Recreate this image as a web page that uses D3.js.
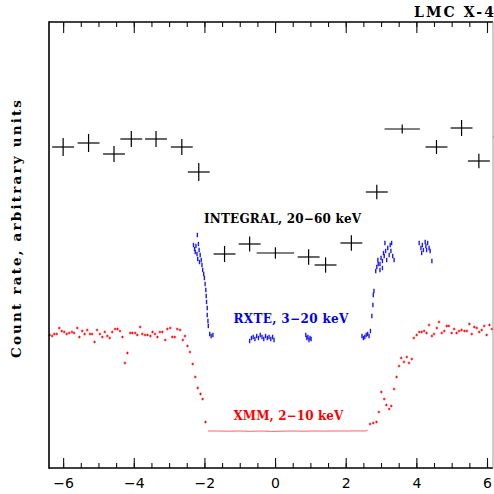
<!DOCTYPE html>
<html>
<head>
<meta charset="utf-8">
<script src="https://cdn.jsdelivr.net/npm/d3@7"></script>
<style>
	body{margin:0; background:#fff;}
	svg{display:block;}
</style>
</head>
<body>
<svg id="chart"></svg>
<script>
// INTEGRAL 20-60 keV, binned (crosses)
const integralPhase = [-6.00, -5.28, -4.56, -4.07, -3.37, -2.64, -2.16, -1.43, -0.72, 0.01, 0.95, 1.43, 2.16, 2.88, 3.60, 4.57, 5.28, 5.77, 6.49];
const integralRate = [3.21, 3.25, 3.14, 3.29, 3.29, 3.21, 2.96, 2.14, 2.24, 2.15, 2.11, 2.03, 2.25, 2.76, 3.39, 3.21, 3.40, 3.07, 3.31];
const integralPhaseErr = [0.31, 0.31, 0.31, 0.31, 0.31, 0.31, 0.31, 0.31, 0.31, 0.53, 0.31, 0.31, 0.31, 0.31, 0.50, 0.31, 0.31, 0.31, 0.31];
const integralRateErr = [0.09, 0.09, 0.08, 0.08, 0.08, 0.08, 0.09, 0.08, 0.075, 0.057, 0.077, 0.077, 0.077, 0.072, 0.045, 0.07, 0.08, 0.073, 0.07];

// RXTE 3-20 keV
const rxtePhase = [
	-2.20, -2.31, -2.28, -2.24, -2.17, -2.15, -2.26, -2.21, -2.12, -2.19, -2.09, -2.14, -2.07, -2.05, -2.02, -2.00,
	-1.98, -1.96, -1.95, -1.94, -1.92, -1.92, -1.90, -1.89, -1.85, -1.81, -1.76,
	-0.72, -0.67, -0.62, -0.57, -0.52, -0.47, -0.42, -0.37, -0.32, -0.27, -0.22, -0.17, -0.12, -0.07, -0.03,
	0.87, 0.90, 0.93, 0.96, 0.99, 1.02,
	2.46, 2.50, 2.54, 2.58, 2.62, 2.66, 2.70,
	2.74, 2.77, 2.78, 2.80,
	2.85, 2.88, 2.92, 2.97, 2.91, 3.00, 3.04, 3.07, 3.09, 3.13, 3.16, 3.19, 3.23, 3.26, 3.28, 3.30, 3.33, 3.37, 3.11, 3.04, 2.97,
	4.08, 4.13, 4.17, 4.20, 4.25, 4.27, 4.32, 4.36, 4.39, 4.15, 4.44, 4.29
];
const rxteRate = [
	2.33, 2.23, 2.19, 2.22, 2.24, 2.18, 2.16, 2.14, 2.13, 2.09, 2.08, 2.06, 2.03, 1.98, 1.94, 1.90,
	1.84, 1.78, 1.72, 1.66, 1.60, 1.53, 1.47, 1.42, 1.34, 1.32, 1.33,
	1.27, 1.30, 1.31, 1.29, 1.32, 1.30, 1.33, 1.31, 1.29, 1.32, 1.30, 1.31, 1.29, 1.31, 1.28,
	1.33, 1.30, 1.31, 1.28, 1.30, 1.29,
	1.32, 1.30, 1.31, 1.33, 1.34, 1.32, 1.37,
	1.52, 1.63, 1.73, 1.77,
	1.97, 2.01, 2.04, 1.98, 2.08, 2.10, 2.07, 2.15, 2.12, 2.17, 2.08, 2.20, 2.13, 2.23, 2.17, 2.25, 2.12, 2.08, 2.25, 2.00, 2.04,
	2.25, 2.20, 2.23, 2.18, 2.26, 2.22, 2.25, 2.20, 2.17, 2.15, 2.07, 2.18
];

// XMM 2-10 keV, out of the flat eclipse bottom
const xmmPhase = [
	-6.38, -6.31, -6.25, -6.18, -6.11, -6.04, -5.97, -5.90, -5.83, -5.75, -5.69, -5.60, -5.54, -5.46, -5.39, -5.32,
	-5.24, -5.18, -5.11, -5.04, -4.96, -4.89, -4.82, -4.75, -4.68, -4.61, -4.53, -4.46, -4.39, -4.32, -4.25, -4.18,
	-4.10, -4.04, -3.96, -3.90, -3.82, -3.76, -3.68, -3.61, -3.53, -3.47, -3.40, -3.33, -3.26, -3.19, -3.11, -3.05,
	-2.97, -2.91, -2.84, -2.77, -2.69, -2.61, -2.55, -2.48, -2.41, -2.33, -2.26, -2.19, -2.11, -2.05, -1.97,
	2.69, 2.78, 2.87, 2.94, 3.01, 3.09, 3.15, 3.23, 3.29, 3.37, 3.44, 3.51, 3.57, 3.65, 3.73, 3.79, 3.87,
	3.93, 4.01, 4.08, 4.15, 4.22, 4.29, 4.36, 4.44, 4.50, 4.58, 4.64, 4.72, 4.79, 4.86, 4.92, 5.00,
	5.07, 5.14, 5.21, 5.28, 5.36, 5.43, 5.50, 5.57, 5.64, 5.71, 5.78, 5.85, 5.92, 5.99, 6.07, 6.14
];
const xmmRate = [
	1.33, 1.32, 1.34, 1.34, 1.40, 1.37, 1.36, 1.34, 1.35, 1.36, 1.35, 1.40, 1.31, 1.37, 1.34, 1.38,
	1.34, 1.34, 1.26, 1.38, 1.34, 1.31, 1.36, 1.32, 1.30, 1.36, 1.39, 1.39, 1.37, 1.31, 1.05, 1.15,
	1.35, 1.35, 1.35, 1.33, 1.41, 1.34, 1.33, 1.33, 1.32, 1.36, 1.34, 1.31, 1.36, 1.36, 1.28, 1.39,
	1.40, 1.31, 1.31, 1.39, 1.38, 1.28, 1.32, 1.22, 1.16, 1.04, 0.91, 0.80, 0.74, 0.69, 0.46,
	0.44, 0.45, 0.46, 0.56, 0.76, 0.69, 0.63, 0.59, 0.62, 0.79, 0.91, 1.02, 1.10, 1.06, 1.11, 1.05, 1.09,
	1.30, 1.33, 1.36, 1.36, 1.37, 1.35, 1.43, 1.32, 1.34, 1.40, 1.46, 1.35, 1.37, 1.42, 1.42, 1.35,
	1.39, 1.35, 1.37, 1.38, 1.37, 1.37, 1.44, 1.34, 1.41, 1.40, 1.36, 1.38, 1.42, 1.33, 1.43, 1.39
];
// eclipse bottom is so dense it reads as a line
const xmmEclipsePhase = [-1.90, -1.60, -1.30, -1.00, -0.70, -0.40, -0.10, 0.20, 0.50, 0.80, 1.10, 1.40, 1.70, 2.00, 2.30, 2.55, 2.62];
const xmmEclipseRate = [0.37, 0.37, 0.368, 0.37, 0.367, 0.37, 0.366, 0.368, 0.37, 0.368, 0.37, 0.369, 0.37, 0.37, 0.371, 0.37, 0.38];

const majorTicks = [-6, -4, -2, 0, 2, 4, 6];
const minorTicks = [-6, -5.5, -5, -4.5, -4, -3.5, -3, -2.5, -2, -1.5, -1, -0.5, 0, 0.5, 1, 1.5, 2, 2.5, 3, 3.5, 4, 4.5, 5, 5.5, 6];

const title = "LMC X-4";
const yTitle = "Count rate, arbitrary units";
const labels = [
	{text: "INTEGRAL, 20\u221260 keV", phase: -2.01, rate: 2.45, color: "black", len: 157},
	{text: "RXTE, 3\u221220 keV", phase: -1.18, rate: 1.45, color: "#0000f0", len: 115},
	{text: "XMM, 2\u221210 keV", phase: -1.18, rate: 0.48, color: "#f00", len: 110}
];

class LightCurvePlot{
	constructor(){
		this.width = 494;
		this.height = 494;
		this.left = 49;
		this.right = 493;
		this.top = 22;
		this.bottom = 468;

		this.x = d3.scaleLinear().domain([-6.4, 6.17]).range([this.left, this.right]);
		this.y = d3.scaleLinear().domain([0, 4.46]).range([this.bottom, this.top]);

		this.svg = d3.select("#chart").attr("width", this.width).attr("height", this.height);
		this.serif = "'DejaVu Serif', 'Liberation Serif', serif";
	}

	drawFrame(){
		let svg = this.svg;
		// minor + major ticks, bottom and top
		let bMinor = d3.axisBottom(this.x).tickValues(minorTicks).tickSize(-5).tickFormat("");
		let bMajor = d3.axisBottom(this.x).tickValues(majorTicks).tickSize(-10).tickPadding(10.5);
		let tMinor = d3.axisTop(this.x).tickValues(minorTicks).tickSize(-5).tickFormat("");
		let tMajor = d3.axisTop(this.x).tickValues(majorTicks).tickSize(-11).tickFormat("");

		[[bMinor, this.bottom], [bMajor, this.bottom], [tMinor, this.top], [tMajor, this.top]].forEach(a => {
			let g = svg.append("g").attr("transform", "translate(0," + a[1] + ")").call(a[0]);
			g.select(".domain").remove();
			g.selectAll(".tick line").attr("stroke", "#111").attr("stroke-width", 1.1);
			g.selectAll(".tick text")
				.attr("fill", "#000")
				.style("font-family", "'DejaVu Sans', sans-serif")
				.style("font-size", "14px");
		});

		svg.append("line").attr("x1", this.left).attr("x2", this.left).attr("y1", this.top - 0.7).attr("y2", this.bottom + 0.7)
			.attr("stroke", "#000").attr("stroke-width", 1.6);
		svg.append("line").attr("x1", this.left).attr("x2", this.right).attr("y1", this.bottom).attr("y2", this.bottom)
			.attr("stroke", "#000").attr("stroke-width", 1.6);
		svg.append("line").attr("x1", this.left).attr("x2", this.right).attr("y1", this.top).attr("y2", this.top)
			.attr("stroke", "#000").attr("stroke-width", 1.4);
		svg.append("line").attr("x1", this.right).attr("x2", this.right).attr("y1", this.top).attr("y2", this.bottom)
			.attr("stroke", "#999").attr("stroke-width", 1);
	}

	drawXmm(){
		let that = this;
		let pts = xmmPhase.map((p, i) => ({p: p, r: xmmRate[i]}));
		let g = this.svg.append("g").attr("stroke", "#f00").attr("stroke-width", 1);
		let s = 1.3;
		g.selectAll("path.xmm")
			.data(pts)
			.join("path")
			.classed("xmm", true)
			.attr("d", d => {
				let cx = that.x(d.p), cy = that.y(d.r);
				return "M" + (cx - s) + "," + cy + "H" + (cx + s) + "M" + cx + "," + (cy - s) + "V" + (cy + s);
			});

		let line = d3.line().x((d, i) => this.x(xmmEclipsePhase[i])).y(d => this.y(d));
		this.svg.append("path")
			.attr("d", line(xmmEclipseRate))
			.attr("fill", "none")
			.attr("stroke", "#f44")
			.attr("stroke-width", 1)
			.attr("opacity", 0.85);
	}

	drawRxte(){
		let pts = rxtePhase.map((p, i) => ({p: p, r: rxteRate[i]}));
		this.svg.append("g")
			.selectAll("line")
			.data(pts)
			.join("line")
			.attr("x1", d => this.x(d.p))
			.attr("x2", d => this.x(d.p))
			.attr("y1", d => this.y(d.r) - 2.2)
			.attr("y2", d => this.y(d.r) + 2.2)
			.attr("stroke", "#1a1af0")
			.attr("stroke-width", 1.4);
	}

	drawIntegral(){
		let pts = integralPhase.map((p, i) => ({p: p, r: integralRate[i], dp: integralPhaseErr[i], dr: integralRateErr[i]}));
		let g = this.svg.append("g").attr("stroke", "#000").attr("stroke-width", 1.2);
		let cross = g.selectAll("g").data(pts).join("g");
		cross.append("line")
			.attr("x1", d => this.x(d.p - d.dp))
			.attr("x2", d => this.x(d.p + d.dp))
			.attr("y1", d => this.y(d.r))
			.attr("y2", d => this.y(d.r));
		cross.append("line")
			.attr("x1", d => this.x(d.p))
			.attr("x2", d => this.x(d.p))
			.attr("y1", d => this.y(d.r - d.dr))
			.attr("y2", d => this.y(d.r + d.dr));
	}

	drawLabels(){
		let svg = this.svg;
		svg.selectAll("text.lbl")
			.data(labels)
			.join("text")
			.classed("lbl", true)
			.attr("x", d => this.x(d.phase))
			.attr("y", d => this.y(d.rate))
			.attr("fill", d => d.color)
			.attr("textLength", d => d.len)
			.attr("lengthAdjust", "spacing")
			.style("font-family", this.serif)
			.style("font-weight", "bold")
			.style("font-size", "12px")
			.text(d => d.text);

		svg.append("text")
			.attr("x", 414)
			.attr("y", 16.7)
			.attr("textLength", 80)
			.attr("lengthAdjust", "spacing")
			.style("font-family", this.serif)
			.style("font-weight", "bold")
			.style("font-size", "14px")
			.text(title);

		svg.append("text")
			.attr("transform", "translate(21," + 358 + ") rotate(-90)")
			.attr("textLength", 258)
			.attr("lengthAdjust", "spacing")
			.style("font-family", this.serif)
			.style("font-weight", "bold")
			.style("font-size", "13.5px")
			.text(yTitle);
	}
}

let plot = new LightCurvePlot();
plot.drawXmm();
plot.drawRxte();
plot.drawIntegral();
plot.drawFrame();
plot.drawLabels();
</script>
</body>
</html>
